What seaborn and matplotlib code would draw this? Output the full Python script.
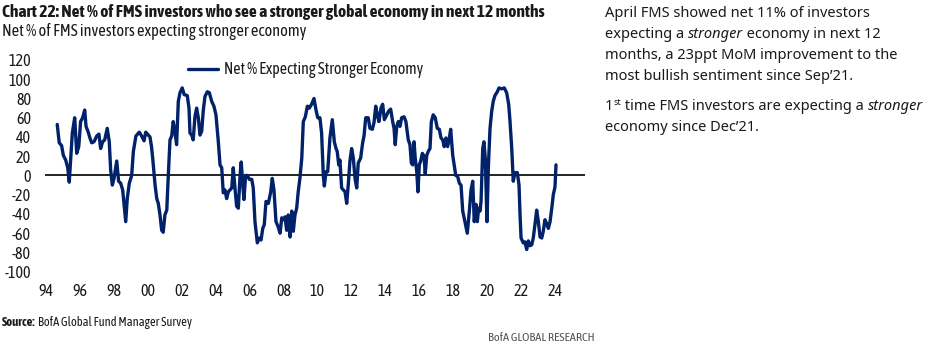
import numpy as np
import pandas as pd
import seaborn as sns
import matplotlib.pyplot as plt

# decimal year vs net % expecting a stronger economy
years = [
    1994.65, 1994.77, 1994.91, 1995.01, 1995.15, 1995.27, 1995.36, 1995.44, 1995.54, 1995.68,
    1995.80, 1995.92, 1996.03, 1996.15, 1996.27, 1996.35, 1996.48, 1996.58, 1996.68, 1996.82,
    1996.98, 1997.11, 1997.21, 1997.33, 1997.45, 1997.60, 1997.72, 1997.80, 1997.90, 1998.00,
    1998.16, 1998.27, 1998.39, 1998.51, 1998.59, 1998.69, 1998.78, 1998.90, 1999.04, 1999.14,
    1999.29, 1999.49, 1999.63, 1999.77, 1999.87, 2000.02, 2000.12, 2000.21, 2000.28, 2000.42,
    2000.52, 2000.61, 2000.71, 2000.81, 2000.90, 2001.00, 2001.11, 2001.20, 2001.30, 2001.40,
    2001.49, 2001.59, 2001.69, 2001.79, 2001.89, 2002.02, 2002.14, 2002.32, 2002.42, 2002.48,
    2002.58, 2002.67, 2002.77, 2002.87, 2002.97, 2003.07, 2003.17, 2003.26, 2003.36, 2003.50,
    2003.62, 2003.76, 2003.89, 2004.01, 2004.15, 2004.25, 2004.35, 2004.44, 2004.54, 2004.64,
    2004.74, 2004.84, 2004.94, 2005.03, 2005.13, 2005.23, 2005.33, 2005.43, 2005.50, 2005.59,
    2005.66, 2005.76, 2005.86, 2005.98, 2006.12, 2006.21, 2006.31, 2006.45, 2006.57, 2006.67,
    2006.77, 2006.86, 2006.96, 2007.10, 2007.24, 2007.33, 2007.43, 2007.55, 2007.67, 2007.79,
    2007.89, 2007.98, 2008.08, 2008.18, 2008.27, 2008.38, 2008.48, 2008.57, 2008.67, 2008.77,
    2008.86, 2008.96, 2009.07, 2009.16, 2009.28, 2009.40, 2009.51, 2009.65, 2009.79, 2009.91,
    2010.01, 2010.14, 2010.24, 2010.34, 2010.40, 2010.50, 2010.60, 2010.73, 2010.87, 2010.99,
    2011.09, 2011.16, 2011.25, 2011.32, 2011.42, 2011.52, 2011.62, 2011.72, 2011.81, 2011.91,
    2012.01, 2012.11, 2012.21, 2012.31, 2012.40, 2012.54, 2012.66, 2012.74, 2012.84, 2012.99,
    2013.09, 2013.23, 2013.33, 2013.43, 2013.52, 2013.62, 2013.74, 2013.84, 2013.94, 2014.08,
    2014.20, 2014.31, 2014.43, 2014.51, 2014.58, 2014.67, 2014.76, 2014.86, 2014.96, 2015.10,
    2015.21, 2015.35, 2015.45, 2015.53, 2015.61, 2015.69, 2015.76, 2015.85, 2015.92, 2016.00,
    2016.08, 2016.18, 2016.28, 2016.35, 2016.44, 2016.53, 2016.63, 2016.71, 2016.82, 2016.94,
    2017.06, 2017.18, 2017.28, 2017.38, 2017.47, 2017.57, 2017.67, 2017.77, 2017.85, 2017.97,
    2018.15, 2018.26, 2018.36, 2018.46, 2018.56, 2018.69, 2018.83, 2018.95, 2019.05, 2019.15,
    2019.24, 2019.34, 2019.42, 2019.50, 2019.58, 2019.64, 2019.74, 2019.81, 2019.89, 2019.99,
    2020.07, 2020.17, 2020.27, 2020.36, 2020.46, 2020.60, 2020.70, 2020.86, 2021.01, 2021.15,
    2021.27, 2021.35, 2021.45, 2021.54, 2021.64, 2021.78, 2021.88, 2021.94, 2022.00, 2022.13,
    2022.23, 2022.33, 2022.43, 2022.53, 2022.63, 2022.72, 2022.82, 2022.92, 2023.02, 2023.12,
    2023.22, 2023.31, 2023.41, 2023.51, 2023.61, 2023.71, 2023.81, 2023.90, 2024.00, 2024.06,
]
net_pct = [
    53, 34, 31, 21, 16, 8, -7, 15, 44, 60,
    23, 30, 56, 60, 68, 51, 45, 39, 34, 35,
    41, 43, 28, 35, 37, 49, 35, 6, -10, -3,
    15, -6, -8, -15, -30, -48, -24, -8, 0, 25,
    41, 45, 41, 36, 45, 42, 40, 30, 18, -10,
    -24, -29, -41, -57, -59, -41, -36, 0, 37, 41,
    56, 46, 32, 77, 86, 91, 84, 83, 70, 44,
    42, 37, 61, 70, 60, 42, 46, 67, 82, 87,
    86, 77, 72, 63, 35, 11, 8, -18, -15, -24,
    -17, -15, -13, 8, -13, -32, -34, 0, 14, -10,
    -25, 0, 0, -4, -4, -13, -48, -70, -65, -67,
    -55, -51, -27, -29, -17, -3, -15, -48, -53, -60,
    -44, -46, -43, -57, -41, -64, -37, -58, -41, -34,
    -17, -3, 18, 56, 61, 72, 70, 74, 80, 68,
    60, 60, 44, 0, -11, 4, 4, 39, 58, 35,
    28, 25, 11, 16, -13, -15, -17, -29, -10, 15,
    28, 18, -3, -13, 13, 18, 34, 41, 60, 60,
    49, 48, 55, 72, 63, 56, 70, 74, 58, 63,
    67, 69, 56, 49, 32, 51, 56, 51, 60, 61,
    56, 37, 32, 13, 11, 35, 18, 4, -17, 11,
    15, 23, 20, 2, 21, 25, 28, 56, 63, 60,
    49, 48, 39, 37, 30, 39, 30, 39, 48, 21,
    0, -1, -8, -10, -37, -48, -60, -37, -15, -6,
    -48, -30, -48, -34, -37, -27, 28, 35, 18, -48,
    8, 49, 67, 77, 83, 87, 91, 90, 91, 86,
    74, 56, 28, -6, 3, 3, -10, -41, -65, -70,
    -69, -77, -68, -73, -72, -65, -51, -36, -48, -64,
    -65, -58, -46, -50, -55, -48, -34, -20, -12, 11,
]
tick_years = list(range(1994, 2025, 2))
tick_labels = [f"{y % 100:02d}" for y in tick_years]

series_name = "Net % Expecting Stronger Economy"
title = "Chart 22: Net % of FMS investors who see a stronger global economy in next 12 months"
subtitle = "Net % of FMS investors expecting stronger economy"

navy = "#012169"
chart_font = ["Asap Condensed", "Cabin Condensed", "Liberation Sans", "DejaVu Sans"]
note_font = ["Noto Sans", "DejaVu Sans"]

sns.set_style("white")
plt.rcParams["font.family"] = chart_font
plt.rcParams["text.color"] = "#1a1a1a"
plt.rcParams["axes.unicode_minus"] = False

df = pd.DataFrame({"year": years, "net": net_pct})

W, H = 925, 353
fig = plt.figure(figsize=(W / 100, H / 100), dpi=100)
ax = fig.add_axes([45 / W, 1 - 271.7 / H, (585 - 45) / W, (271.7 - 60) / H])

sns.lineplot(data=df, x="year", y="net", ax=ax, color=navy, lw=2.4, label=series_name)
ax.axhline(0, color="black", lw=1.2, zorder=1)

ax.set_xlim(1993.93, 2025.77)
ax.set_ylim(-100, 120)
ax.set_yticks(range(-100, 121, 20))
ax.set_xticks(tick_years)
ax.set_xticklabels(tick_labels)
ax.tick_params(axis="both", length=0, labelsize=11.5, colors="#1a1a1a")
ax.tick_params(axis="y", pad=10)
ax.tick_params(axis="x", pad=8)
ax.set_xlabel("")
ax.set_ylabel("")
sns.despine(ax=ax, left=True, bottom=True)

renderer = fig.canvas.get_renderer()


def fit_width(t, target_px):
    # scale a text so it spans the same width as in the reference
    w = t.get_window_extent(renderer).width
    t.set_fontsize(t.get_fontsize() * target_px / w)
    return t


leg = ax.legend(loc="center left", bbox_to_anchor=(180 / W, 1 - 70 / H),
                bbox_transform=fig.transFigure, frameon=False, borderpad=0,
                handlelength=2.0, handletextpad=0.4, fontsize=11)
fit_width(leg.get_texts()[0], 199)

fit_width(fig.text(2 / W, 1 - 17 / H, title, fontsize=11, fontweight="bold", va="baseline"), 546)
fit_width(fig.text(2 / W, 1 - 36 / H, subtitle, fontsize=11, va="baseline"), 304)


def rich_line(x_px, y_px, parts, size=10.5):
    # draw text pieces one after another on a single baseline
    for txt, style, dy, fs in parts:
        t = fig.text(x_px / W, 1 - (y_px - dy) / H, txt, fontsize=fs or size,
                     fontstyle=style, family=note_font, va="baseline")
        x_px += t.get_window_extent(renderer).width


rich_line(605, 17.3, [("April FMS showed net 11% of investors", "normal", 0, None)])
rich_line(605, 38.3, [("expecting a ", "normal", 0, None), ("stronger", "italic", 0, None),
                      (" economy in next 12", "normal", 0, None)])
rich_line(605, 59.3, [("months, a 23ppt MoM improvement to the", "normal", 0, None)])
rich_line(605, 80.0, [("most bullish sentiment since Sep\u201921.", "normal", 0, None)])
rich_line(605, 110.0, [("1", "normal", 0, None), ("st", "normal", 5, 6.5),
                       (" time FMS investors are expecting a ", "normal", 0, None),
                       ("stronger", "italic", 0, None)])
rich_line(605, 130.7, [("economy since Dec\u201921.", "normal", 0, None)])

src = fig.text(2 / W, 1 - 326 / H, "Source:", fontsize=9, fontweight="bold", va="baseline")
fig.text(2 / W + src.get_window_extent(renderer).width / W + 2 / W, 1 - 326 / H,
         "BofA Global Fund Manager Survey", fontsize=9, va="baseline")
fit_width(fig.text(595 / W, 1 - 341 / H, "BofA GLOBAL RESEARCH", fontsize=9, color="#555555",
                   ha="right", va="baseline"), 106)

fig.savefig("out.png", dpi=100)
